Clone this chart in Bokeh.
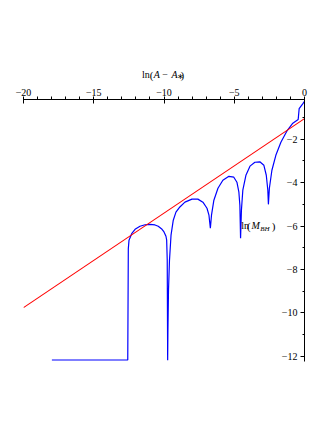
from bokeh.plotting import figure
from bokeh.models import Range1d, FixedTicker, Label, CustomJSTickFormatter
from bokeh.layouts import column
from bokeh.core.properties import value
from bokeh.embed import file_html
from bokeh.resources import INLINE

# ---- data ----
x_blue = [-17.98, -12.58, -12.54, -12.49, -12.30, -12.06, -11.71, -11.35, -11.00, -10.64,
          -10.41, -10.14, -10.00, -9.86, -9.81, -9.77, -9.74, -9.72, -9.68, -9.61,
          -9.50, -9.34, -9.15, -8.87, -8.51, -8.01, -7.59, -7.23, -6.94, -6.80,
          -6.70, -6.62, -6.45, -6.16, -5.81, -5.38, -5.03, -4.81, -4.67, -4.60,
          -4.55, -4.49, -4.39, -4.17, -3.88, -3.53, -3.18, -2.89, -2.72, -2.61,
          -2.57, -2.50, -2.32, -2.04, -1.68, -1.26, -0.83, -0.45, -0.38, -0.10, 0.0]
y_blue = [-12.17, -12.17, -7.04, -6.65, -6.35, -6.15, -6.01, -5.94, -5.92, -5.95,
          -6.01, -6.15, -6.27, -6.47, -6.65, -7.58, -12.18, -10.80, -8.96, -7.58,
          -6.42, -5.73, -5.36, -5.12, -4.90, -4.76, -4.76, -4.90, -5.18, -5.50,
          -6.10, -5.50, -4.81, -4.26, -3.89, -3.71, -3.75, -3.98, -4.44, -5.04,
          -6.56, -5.27, -4.35, -3.66, -3.24, -3.06, -3.04, -3.20, -3.66, -4.35,
          -5.00, -4.26, -3.43, -2.74, -2.14, -1.63, -1.26, -1.09, -0.59, -0.35, -0.25]

x_red = [-20.0, 0.0]
y_red = [-9.76, -1.05]

x_ticks = [-20, -15, -10, -5, 0]
x_tick_labels = ["\u221220", "\u221215", "\u221210", "\u22125", "0"]
x_minor = list(range(-20, 1))
y_ticks = [-2, -4, -6, -8, -10, -12]
y_tick_labels = ["\u22122", "\u22124", "\u22126", "\u22128", "\u221210", "\u221212"]
y_minor = [-1, -3, -5, -7, -9, -11]

FONT = "Liberation Serif"
LEFT = 23
FRAME_W = 281
TOP_H = 83          # height of the strip that carries the x-axis title
MAIN_TOP = 16       # border above the main frame (x tick labels)

# ---- main plot ----
p = figure(frame_width=FRAME_W, frame_height=262,
           x_range=Range1d(-20, 0), y_range=Range1d(-12.24, -0.17),
           x_axis_location="above", y_axis_location="right",
           toolbar_location=None, output_backend="svg",
           min_border_left=LEFT, min_border_top=MAIN_TOP,
           min_border_right=20, min_border_bottom=40)
p.outline_line_color = None
p.xgrid.visible = False
p.ygrid.visible = False

xa = p.xaxis[0]
xa.ticker = FixedTicker(ticks=x_ticks, minor_ticks=x_minor)
xa.major_label_overrides = {t: s for t, s in zip(x_ticks, x_tick_labels)}
xa.major_label_text_font = FONT
xa.major_label_text_font_size = "10px"
xa.major_label_text_color = "black"
xa.major_label_standoff = 1
xa.major_tick_in = 4
xa.major_tick_out = 2
xa.minor_tick_in = 0
xa.minor_tick_out = 3
xa.axis_line_color = "black"
xa.major_tick_line_color = "black"
xa.minor_tick_line_color = "black"

ya = p.yaxis[0]
ya.ticker = FixedTicker(ticks=y_ticks, minor_ticks=y_minor)
ya.formatter = CustomJSTickFormatter(code="return ''")
ya.major_label_standoff = 0
ya.major_tick_in = 4
ya.major_tick_out = 0
ya.minor_tick_in = 2
ya.minor_tick_out = 0
ya.axis_line_color = "black"
ya.major_tick_line_color = "black"
ya.minor_tick_line_color = "black"

# y tick labels sit on the inner (left) side of the axis, as in the reference
p.text(x=[0] * len(y_ticks), y=y_ticks, text=y_tick_labels, x_offset=-7,
       text_align="right", text_baseline="middle",
       text_font=value(FONT), text_font_size="10px", text_color="black")

p.line(x_blue, y_blue, line_color="#0000ff", line_width=1.2)
p.line(x_red, y_red, line_color="#ff0000", line_width=1.1)


def px2x(px):
    return -20 + (px - 23.3) / 14.05


def py2y(py):
    return (95.61 - py) / 21.7


ylabel_pieces = [
    ("ln", 241.0, 225.5, "10px", "normal"),
    ("(", 246.8, 226.0, "11px", "normal"),
    ("M", 251.2, 225.5, "10px", "italic"),
    ("BH", 260.0, 228.5, "7px", "italic"),
    (")", 271.6, 226.0, "11px", "normal"),
]
for txt, px, py, size, style in ylabel_pieces:
    p.add_layout(Label(x=px2x(px), y=py2y(py), text=txt, text_font=FONT,
                       text_font_size=size, text_font_style=style,
                       text_color="black", text_align="left",
                       text_baseline="alphabetic"))

# ---- strip above the plot carrying the axis title ln(A - A*) ----
top = figure(frame_width=FRAME_W, frame_height=TOP_H,
             x_range=p.x_range, y_range=Range1d(0, TOP_H),
             x_axis_location=None, y_axis_location=None,
             toolbar_location=None, output_backend="svg",
             min_border_left=LEFT, min_border_right=20,
             min_border_top=0, min_border_bottom=0)
top.outline_line_color = None
top.xgrid.visible = False
top.ygrid.visible = False

title_pieces = [
    ("ln", 141.7, 73.5, "10px", "normal"),
    ("(", 149.6, 74.0, "11px", "normal"),
    ("A", 153.6, 73.5, "10px", "italic"),
    ("\u2212", 162.0, 73.5, "10px", "normal"),
    ("A", 171.2, 73.5, "10px", "italic"),
    ("\u2217", 176.4, 75.5, "8px", "normal"),
    (")", 180.2, 74.0, "11px", "normal"),
]
for txt, px, py, size, style in title_pieces:
    top.add_layout(Label(x=px2x(px), y=TOP_H - py, text=txt, text_font=FONT,
                         text_font_size=size, text_font_style=style,
                         text_color="black", text_align="left",
                         text_baseline="alphabetic"))

layout = column(top, p, spacing=0)
open("out.html", "w").write(file_html(layout, INLINE))
